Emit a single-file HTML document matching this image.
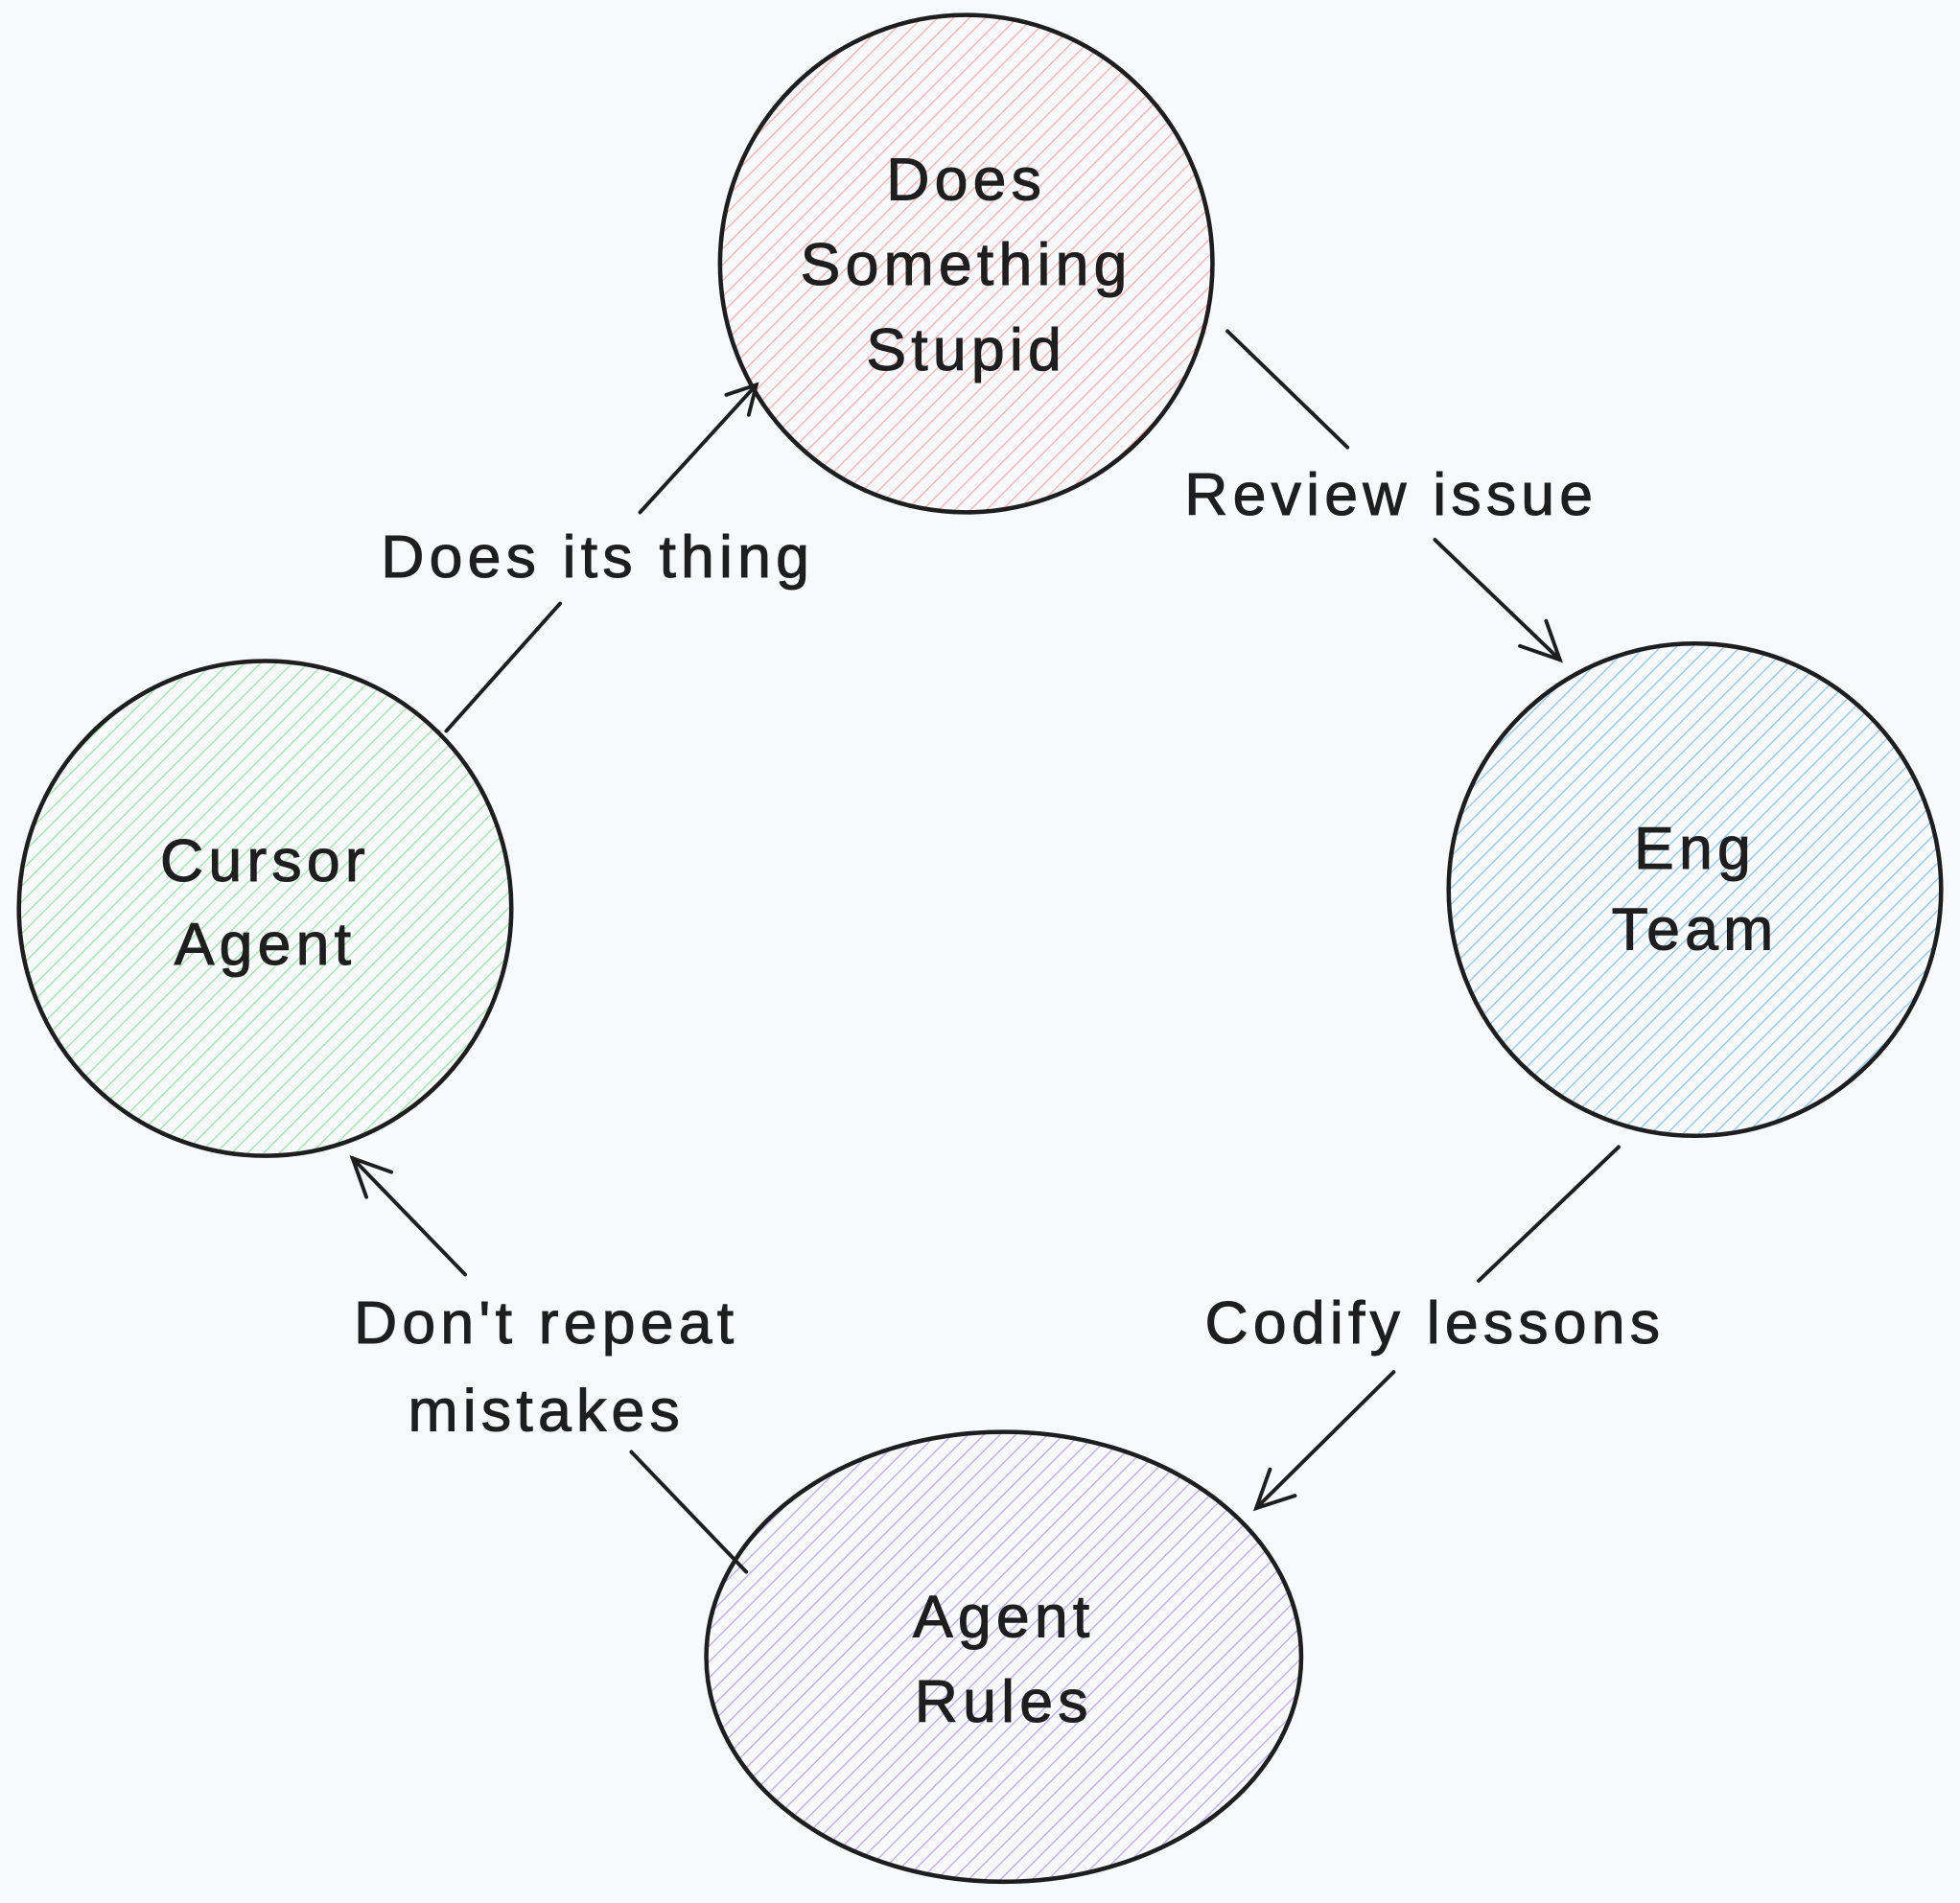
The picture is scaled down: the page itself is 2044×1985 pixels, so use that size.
<!DOCTYPE html>
<html><head><style>
html,body{margin:0;padding:0;background:#f8f9fa;}
svg{display:block}
text{font-family:"Liberation Sans",sans-serif;font-size:48px;fill:#1e1e1e;stroke:#1e1e1e;stroke-width:0.8;text-anchor:middle;letter-spacing:4px;}
</style></head><body>
<svg width="2044" height="1985" viewBox="0 0 1568 1523" xmlns="http://www.w3.org/2000/svg">
<defs>
<pattern id="pk" width="9" height="9" patternUnits="userSpaceOnUse" patternTransform="rotate(45)"><line x1="0" y1="0" x2="0" y2="9" stroke="#ffb3b3" stroke-width="2.2"/></pattern>
<pattern id="bl" width="9" height="9" patternUnits="userSpaceOnUse" patternTransform="rotate(45)"><line x1="0" y1="0" x2="0" y2="9" stroke="#90ccff" stroke-width="2.2"/></pattern>
<pattern id="gr" width="9" height="9" patternUnits="userSpaceOnUse" patternTransform="rotate(45)"><line x1="0" y1="0" x2="0" y2="9" stroke="#9eeca9" stroke-width="2.2"/></pattern>
<pattern id="pu" width="9" height="9" patternUnits="userSpaceOnUse" patternTransform="rotate(45)"><line x1="0" y1="0" x2="0" y2="9" stroke="#c2adff" stroke-width="2.2"/></pattern>
</defs>
<rect width="1568" height="1523" fill="#f8f9fa"/>
<g stroke="#1e1e1e" stroke-width="3.5">
<ellipse cx="773" cy="211" rx="197" ry="199" fill="url(#pk)"/>
<ellipse cx="1356" cy="712" rx="197" ry="197" fill="url(#bl)"/>
<ellipse cx="212" cy="727" rx="197" ry="198" fill="url(#gr)"/>
<ellipse cx="803" cy="1326" rx="238" ry="180" fill="url(#pu)"/>
</g>
<g stroke="#1e1e1e" stroke-width="3" fill="none" stroke-linecap="round">
<line x1="357" y1="585" x2="448" y2="483"/><line x1="512" y1="410" x2="605" y2="308"/>
<polyline points="581,316 605,308 599,332"/>
<line x1="982" y1="265" x2="1078" y2="358"/><line x1="1148" y1="432" x2="1248" y2="528"/>
<polyline points="1216,517 1248,528 1237,497"/>
<line x1="1295" y1="918" x2="1183" y2="1025"/><line x1="1115" y1="1098" x2="1005" y2="1207"/>
<polyline points="1016,1176 1005,1207 1036,1197"/>
<line x1="597" y1="1258" x2="505" y2="1162"/><line x1="372" y1="1020" x2="282" y2="927"/>
<polyline points="293,958 282,927 313,938"/>
</g>
<text x="773" y="160">Does</text>
<text x="773" y="228">Something</text>
<text x="773" y="296">Stupid</text>
<text x="1356" y="695">Eng</text>
<text x="1356" y="760">Team</text>
<text x="212" y="705">Cursor</text>
<text x="212" y="772">Agent</text>
<text x="803" y="1310">Agent</text>
<text x="803" y="1378">Rules</text>
<text x="478" y="462">Does its thing</text>
<text x="1113" y="412">Review issue</text>
<text x="1148" y="1075">Codify lessons</text>
<text x="437" y="1075">Don't repeat</text>
<text x="437" y="1145">mistakes</text>
</svg>
</body></html>
